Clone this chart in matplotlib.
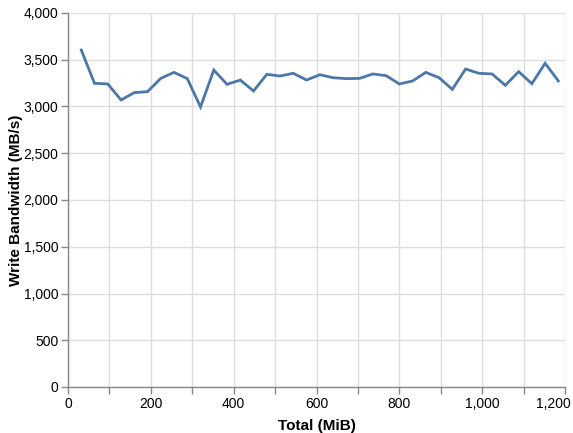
import matplotlib
matplotlib.use("Agg")
import matplotlib.pyplot as plt
import matplotlib.transforms as mtransforms
from matplotlib.ticker import FuncFormatter, MultipleLocator

total_mib = [32 * i for i in range(1, 38)]
write_bw = [3604, 3248, 3241, 3070, 3148, 3159, 3301, 3365, 3298, 2995,
            3390, 3237, 3283, 3166, 3344, 3326, 3355, 3283, 3340, 3308,
            3298, 3301, 3348, 3330, 3241, 3273, 3365, 3308, 3183, 3401,
            3355, 3348, 3226, 3373, 3244, 3462, 3273]

plt.rcParams['font.family'] = ['Liberation Sans', 'DejaVu Sans']
W, H = 573, 433
L, R, T, B = 68, 565, 13, 387
fig = plt.figure(figsize=(W / 100, H / 100), dpi=100)
ax = fig.add_axes([L / W, (H - B) / H, (R - L) / W, (B - T) / H])

ax.plot(total_mib, write_bw, color='#4c78a8', lw=2, solid_joinstyle='miter', zorder=3)
ax.set_xlim(0, 1200)
ax.set_ylim(0, 4000)
ax.xaxis.set_major_locator(MultipleLocator(100))
ax.yaxis.set_major_locator(MultipleLocator(500))
ax.yaxis.set_major_formatter(FuncFormatter(lambda v, p: f"{int(v):,}"))
ax.xaxis.set_major_formatter(FuncFormatter(lambda v, p: f"{int(round(v)):,}" if int(round(v)) % 200 == 0 else ""))
ax.grid(True, color='#dddddd', lw=1, zorder=0)
ax.set_axisbelow(True)
for s in ['top', 'right']:
    ax.spines[s].set_visible(False)
for s in ['left', 'bottom']:
    ax.spines[s].set_color('#888888')
    ax.spines[s].set_linewidth(1)
ax.tick_params(colors='#888888', length=5, width=1, labelcolor='#000000', labelsize=10, pad=2)
ax.set_xlabel('Total (MiB)', fontsize=11, fontweight='bold', labelpad=6)
ax.set_ylabel('Write Bandwidth (MB/s)', fontsize=11, fontweight='bold', va='center')
ax.yaxis.set_label_coords(-(L - 16) / (R - L), 0.5)

fig.canvas.draw()
for lab in ax.get_xticklabels():
    if lab.get_text() == '1,200':
        lab.set_horizontalalignment('right')
        lab.set_transform(lab.get_transform() + mtransforms.ScaledTranslation(6 / 100, 0, fig.dpi_scale_trans))
fig.savefig('out.png', dpi=100, facecolor='white')
